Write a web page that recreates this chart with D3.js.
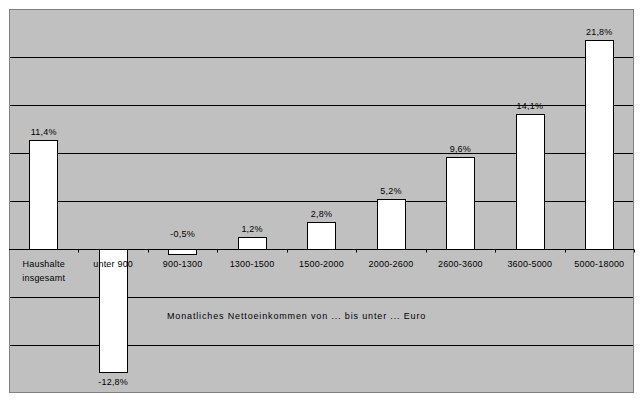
<!DOCTYPE html>
<html><head><meta charset="utf-8">
<script src="https://cdn.jsdelivr.net/npm/d3@7"></script>
<style>body{margin:0;background:#fff}svg{display:block}text{font-family:"Liberation Sans",Arial,sans-serif;fill:#000}</style>
</head><body>
<script>
const categories = ["Haushalte insgesamt","unter 900","900-1300","1300-1500","1500-2000","2000-2600","2600-3600","3600-5000","5000-18000"];
const values = [11.4,-12.8,-0.5,1.2,2.8,5.2,9.6,14.1,21.8];
const yTicks = [-15,-10,-5,0,5,10,15,20,25];
const axisTitle = "Monatliches Nettoeinkommen von ... bis unter ... Euro";

const W=642,H=399;
const L=9,R=634,T=9,B=393;
const svg=d3.select("body").append("svg").attr("width",W).attr("height",H);
const x=d3.scaleBand().domain(categories).range([L,R]);
const y=d3.scaleLinear().domain([-15,25]).range([B,T]);
const fmt=v=>String(v.toFixed(1)).replace(".",",")+"%";

svg.append("rect").attr("x",L).attr("y",T).attr("width",R-L).attr("height",B-T).attr("fill","#c0c0c0");
svg.selectAll("line.grid").data(yTicks.filter(d=>d!==0&&d!==25&&d!==-15)).enter().append("line")
 .attr("x1",L).attr("x2",R).attr("y1",d=>Math.round(y(d))+0.5).attr("y2",d=>Math.round(y(d))+0.5)
 .attr("stroke","#000").attr("stroke-width",1);
svg.append("rect").attr("x",L+0.5).attr("y",T+0.5).attr("width",R-L-1).attr("height",B-T-1)
 .attr("fill","none").attr("stroke","#808080");

const bw=x.bandwidth()*0.41;
svg.selectAll("rect.bar").data(values).enter().append("rect")
 .attr("x",(d,i)=>Math.round(x(categories[i])+(x.bandwidth()-bw)/2)+0.5)
 .attr("y",d=>Math.round(y(Math.max(0,d)))+0.5)
 .attr("width",Math.round(bw))
 .attr("height",d=>Math.max(1,Math.round(Math.abs(y(d)-y(0)))))
 .attr("fill","#fff").attr("stroke","#000");

const y0=Math.round(y(0))+0.5;
svg.append("line").attr("x1",L).attr("x2",R).attr("y1",y0).attr("y2",y0).attr("stroke","#000");
const bounds=categories.map(c=>x(c)).concat([R]);
svg.selectAll("line.tick").data(bounds.slice(1)).enter().append("line")
 .attr("x1",d=>Math.round(d)+0.5).attr("x2",d=>Math.round(d)+0.5).attr("y1",y0).attr("y2",y0+3).attr("stroke","#000");

svg.selectAll("text.val").data(values).enter().append("text")
 .attr("x",(d,i)=>x(categories[i])+x.bandwidth()/2)
 .attr("y",d=>{
   if(d>=0) return y(d)-5;
   if(y(d)-y(0)<15) return y(0)-12;
   return y(d)+13;
 })
 .attr("text-anchor","middle").attr("font-size","9px").attr("letter-spacing","0.2px").text(fmt);

categories.forEach((c,i)=>{
  const words = i===0? c.split(" ") : [c];
  const t=svg.append("text").attr("x",x(c)+x.bandwidth()/2).attr("y",267).attr("text-anchor","middle").attr("font-size","9px").attr("letter-spacing","0.2px");
  words.forEach((w,j)=>t.append("tspan").attr("x",x(c)+x.bandwidth()/2).attr("dy",j?14:0).text(w));
});
svg.append("text").attr("x",167).attr("y",319).attr("font-size","9px").attr("letter-spacing","0.85px").text(axisTitle);
</script>
</body></html>
